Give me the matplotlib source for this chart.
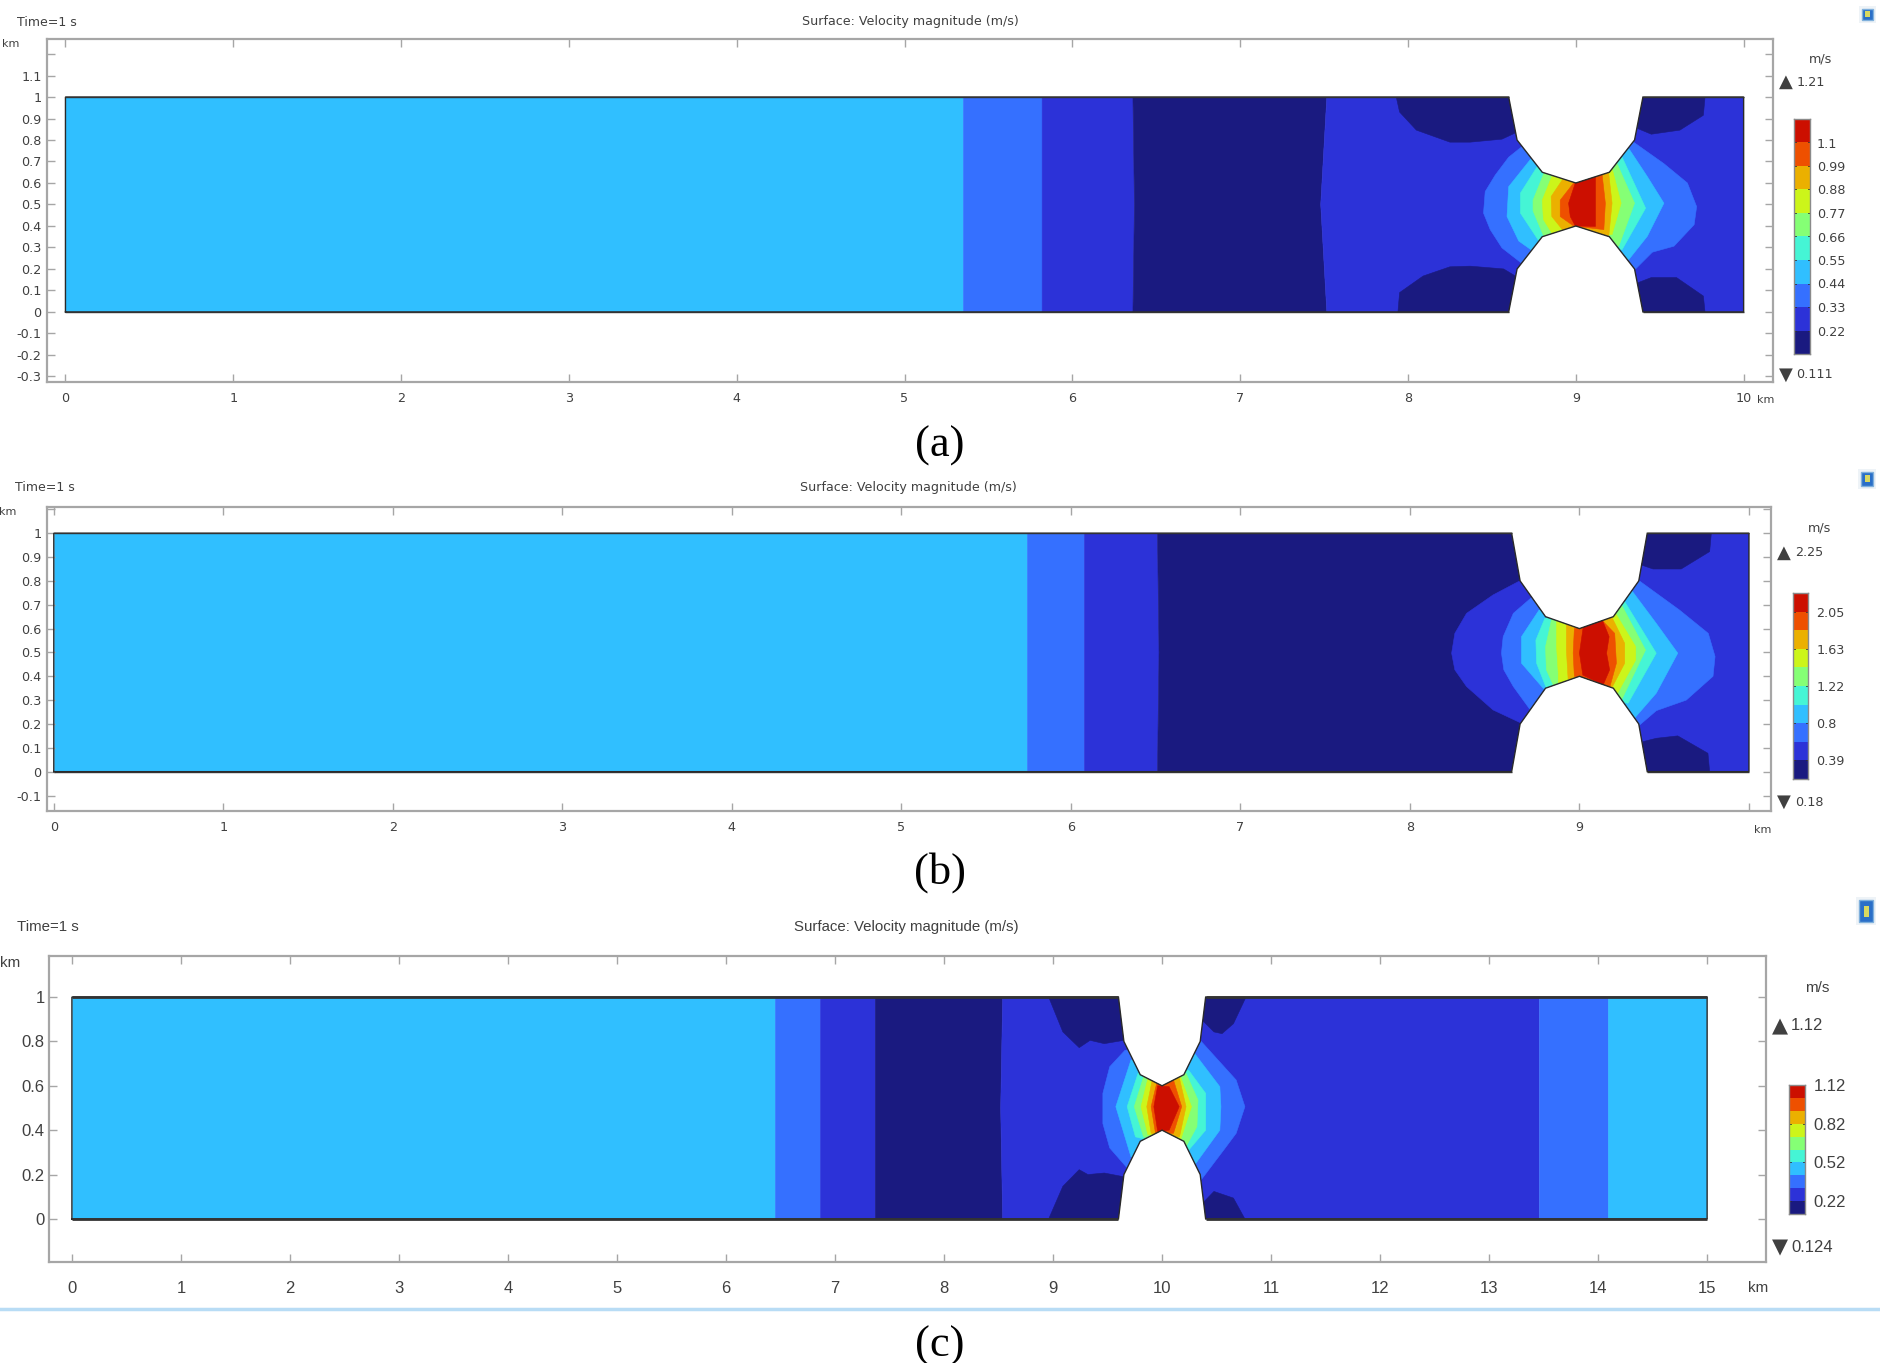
import matplotlib
matplotlib.use('Agg')
import matplotlib.pyplot as plt
from matplotlib.colors import ListedColormap
from matplotlib.patches import Polygon, Rectangle

W, H = 1880, 1363

# contour colours, lowest level first
level_colors = ['#1a1a80', '#2c32d8', '#3570ff', '#30bfff', '#45f5d5',
                '#85ff75', '#ccf51a', '#ebb000', '#ee5000', '#cc0f00']
AXIS = '#a6a6a6'
INK = '#404040'

# channel wall, 10 km cases (a, b)
wall_top_x = [8.6, 8.65, 8.8, 9.0, 9.2, 9.35, 9.4]
wall_top_y = [1.0, 0.8, 0.65, 0.6, 0.65, 0.8, 1.0]
wall_bot_y = [0.0, 0.2, 0.35, 0.4, 0.35, 0.2, 0.0]
# 15 km case (c)
c_wall_top_x = [9.6, 9.65, 9.8, 10.0, 10.2, 10.35, 10.4]

# (a) vertical bands along the channel
a_edges = [0, 5.35, 5.82, 6.36, 7.52, 10]
a_edges_mid = [0, 5.35, 5.82, 6.37, 7.48, 10]
a_levels = [3, 2, 1, 0, 1]
# (a) contours round the throat, level 3 upwards (index 2..9)
a_left = [
    [(8.68, .77), (8.6, .72), (8.52, .637), (8.46, .56), (8.45, .46), (8.49, .383), (8.56, .298), (8.68, .225)],
    [(8.73, .71), (8.6, .583), (8.59, .444), (8.66, .33), (8.75, .28)],
    [(8.77, .676), (8.67, .553), (8.67, .46), (8.78, .33)],
    [(8.81, .645), (8.745, .52), (8.745, .47), (8.81, .35)],
    [(8.857, .63), (8.8, .52), (8.807, .43), (8.857, .367)],
    [(8.92, .615), (8.853, .537), (8.857, .444), (8.92, .383)],
    [(8.987, .6), (8.907, .52), (8.907, .444), (8.987, .40)],
    [(8.997, .6), (8.957, .506), (8.967, .444), (8.997, .4)],
]
a_right = [
    [(9.326, .8), (9.525, .69), (9.665, .6), (9.72, .49), (9.705, .406), (9.585, .306), (9.456, .278), (9.356, .2)],
    [(9.316, .76), (9.426, .63), (9.525, .506), (9.426, .352), (9.316, .244)],
    [(9.276, .72), (9.416, .483), (9.276, .29)],
    [(9.246, .69), (9.35, .506), (9.256, .306)],
    [(9.216, .668), (9.27, .506), (9.216, .36)],
    [(9.196, .645), (9.216, .506), (9.196, .35)],
    [(9.157, .637), (9.176, .506), (9.167, .383)],
    [(9.117, .63), (9.117, .398)],
]
# (a) low velocity pockets next to the walls
a_pockets = [
    [(7.93, 1), (7.95, .93), (8.05, .846), (8.25, .79), (8.37, .79), (8.56, .804), (8.64, .833)],
    [(7.94, 0), (7.95, .09), (8.09, .167), (8.25, .21), (8.37, .213), (8.57, .2), (8.64, .167)],
    [(9.77, 1), (9.76, .915), (9.62, .846), (9.45, .827), (9.37, .853)],
    [(9.77, 0), (9.76, .074), (9.6, .16), (9.45, .16), (9.37, .136)],
]

# (b)
b_edges = [0, 5.74, 6.08, 6.51, 10]
b_edges_mid = [0, 5.74, 6.08, 6.52, 10]
b_levels = [3, 2, 1, 0]
b_left = [
    [(8.658, .804), (8.49, .741), (8.334, .664), (8.265, .58), (8.246, .497), (8.265, .427), (8.334, .357),
     (8.49, .259), (8.658, .203)],
    [(8.717, .73), (8.61, .664), (8.55, .566), (8.54, .497), (8.554, .427), (8.61, .357), (8.707, .262)],
    [(8.762, .678), (8.658, .566), (8.658, .455), (8.786, .35)],
    [(8.796, .643), (8.743, .552), (8.747, .455), (8.805, .35)],
    [(8.835, .636), (8.8, .524), (8.805, .427), (8.845, .364)],
    [(8.865, .63), (8.865, .524), (8.875, .413), (8.875, .37)],
    [(8.923, .615), (8.923, .51), (8.933, .39)],
    [(8.97, .6), (8.963, .497), (8.97, .4)],
    [(9.024, .615), (9.0, .497), (9.02, .405)],
]
b_right = [
    [(9.4, 1.05), (10.1, 1.05), (10.1, -.05), (9.4, -.05)],
    [(9.346, .804), (9.59, .678), (9.76, .58), (9.8, .483), (9.788, .4), (9.63, .3), (9.454, .256), (9.346, .19)],
    [(9.306, .762), (9.453, .622), (9.58, .497), (9.453, .329), (9.316, .217)],
    [(9.267, .713), (9.453, .497), (9.287, .287)],
    [(9.248, .7), (9.39, .51), (9.248, .3)],
    [(9.208, .67), (9.332, .524), (9.332, .468), (9.218, .32)],
    [(9.19, .65), (9.267, .538), (9.267, .455), (9.19, .35)],
    [(9.14, .63), (9.208, .58), (9.218, .455), (9.18, .357)],
    [(9.135, .636), (9.175, .566), (9.16, .497), (9.178, .427), (9.14, .364)],
]
b_pockets = [
    [(9.778, 1), (9.768, .923), (9.6, .85), (9.434, .85), (9.365, .867)],
    [(9.768, 0), (9.758, .077), (9.58, .15), (9.454, .14), (9.375, .126)],
]

# (c)
c_edges = [0, 6.45, 6.86, 7.37, 8.54, 13.46, 14.09, 15]
c_edges_mid = [0, 6.45, 6.86, 7.37, 8.52, 13.46, 14.09, 15]
c_levels = [3, 2, 1, 0, 1, 2, 3]
c_left = [
    [(9.66, .76), (9.52, .686), (9.457, .566), (9.457, .43), (9.52, .32), (9.68, .23)],
    [(9.715, .716), (9.576, .506), (9.715, .28)],
    [(9.78, .656), (9.68, .506), (9.756, .37)],
    [(9.83, .64), (9.745, .506), (9.83, .37)],
    [(9.87, .633), (9.807, .506), (9.87, .38)],
    [(9.91, .626), (9.86, .506), (9.9, .386)],
    [(9.95, .61), (9.9, .506), (9.94, .386)],
    [(9.96, .6), (9.925, .506), (9.96, .394)],
]
c_right = [
    [(10.35, .805), (10.68, .626), (10.76, .506), (10.68, .386), (10.58, .32), (10.36, .177)],
    [(10.3, .745), (10.53, .596), (10.54, .506), (10.53, .4), (10.3, .244)],
    [(10.244, .67), (10.4, .566), (10.4, .4), (10.244, .31)],
    [(10.22, .656), (10.33, .536), (10.32, .416), (10.22, .326)],
    [(10.17, .64), (10.27, .506), (10.17, .356)],
    [(10.16, .633), (10.22, .506), (10.16, .37)],
    [(10.105, .626), (10.18, .506), (10.105, .386)],
    [(10.065, .596), (10.157, .506), (10.065, .4)],
]
c_pockets = [
    [(8.96, 1), (9.09, .843), (9.24, .772), (9.34, .805), (9.47, .79), (9.65, .805)],
    [(8.96, 0), (9.09, .147), (9.24, .222), (9.32, .2), (9.47, .207), (9.65, .19)],
    [(10.77, 1), (10.655, .88), (10.55, .835), (10.476, .843), (10.36, .9)],
    [(10.76, 0), (10.655, .094), (10.476, .124), (10.37, .07)],
]

# colour bars
a_cb_edges = [.11, .22, .33, .44, .55, .66, .77, .88, .99, 1.1, 1.21]
a_cb_ticks = [.22, .33, .44, .55, .66, .77, .88, .99, 1.1]
a_cb_labels = ['0.22', '0.33', '0.44', '0.55', '0.66', '0.77', '0.88', '0.99', '1.1']
b_cb_edges = [.18, .387, .594, .801, 1.008, 1.215, 1.422, 1.629, 1.836, 2.043, 2.25]
b_cb_ticks = [.387, .801, 1.215, 1.629, 2.043]
b_cb_labels = ['0.39', '0.8', '1.22', '1.63', '2.05']
c_cb_edges = [.124, .224, .323, .423, .523, .622, .722, .822, .921, 1.021, 1.12]
c_cb_ticks = [.224, .523, .822, 1.12]
c_cb_labels = ['0.22', '0.52', '0.82', '1.12']

# axis ticks
a_yticks = [-.3, -.2, -.1, 0, .1, .2, .3, .4, .5, .6, .7, .8, .9, 1, 1.1, 1.2]
a_ylabels = ['-0.3', '-0.2', '-0.1', '0', '0.1', '0.2', '0.3', '0.4', '0.5', '0.6', '0.7', '0.8', '0.9', '1', '1.1', '']
a_xticks = list(range(11))
a_xlabels = ['0', '1', '2', '3', '4', '5', '6', '7', '8', '9', '10']
b_yticks = [-.1, 0, .1, .2, .3, .4, .5, .6, .7, .8, .9, 1, 1.1]
b_ylabels = ['-0.1', '0', '0.1', '0.2', '0.3', '0.4', '0.5', '0.6', '0.7', '0.8', '0.9', '1', '']
b_xticks = list(range(11))
b_xlabels = ['0', '1', '2', '3', '4', '5', '6', '7', '8', '9', '']
c_yticks = [0, .2, .4, .6, .8, 1]
c_ylabels = ['0', '0.2', '0.4', '0.6', '0.8', '1']
c_xticks = list(range(16))
c_xlabels = [str(i) for i in range(16)]

# toolbar icons at the right edge: centre x, centre y, width, height
icon_x = [1867, 1867, 1866]
icon_y = [14, 479, 911]
icon_w = [11, 12, 14]
icon_h = [11, 14, 22]

plt.rcParams['font.family'] = ['DejaVu Sans']
SANS = ['DejaVu Sans']
NARROW = ['Liberation Sans', 'DejaVu Sans']

fig = plt.figure(figsize=(W / 100, H / 100), dpi=100, facecolor='white')


def px_axes(left, top, right, bottom):
    return fig.add_axes([left / W, 1 - bottom / H, (right - left) / W, (bottom - top) / H])


def label(x, y, s, **kw):
    kw.setdefault('color', INK)
    kw.setdefault('va', 'center')
    return fig.text(x / W, 1 - y / H, s, **kw)


def draw_panel(box, xlim, ylim, top_x, edges, edges_mid, levels, left, right, pockets, first_level,
               xticks, xlabels, yticks, ylabels, fam, size, xpad, ypad, lw, hlw):
    ax = px_axes(*box)
    ax.set_xlim(*xlim)
    ax.set_ylim(*ylim)
    for s in ax.spines.values():
        s.set_color(AXIS)
        s.set_linewidth(1.6)
    ax.set_xticks(xticks)
    ax.set_xticklabels(xlabels, family=fam, fontsize=size, color=INK)
    ax.set_yticks(yticks)
    ax.set_yticklabels(ylabels, family=fam, fontsize=size, color=INK)
    ax.tick_params(direction='in', length=5.5, width=1, color=AXIS, top=True, right=True)
    ax.tick_params(axis='x', pad=xpad)
    ax.tick_params(axis='y', pad=ypad)

    end = edges[-1]
    outline = [(0, 0)] + list(zip(top_x, wall_bot_y)) + [(end, 0), (end, 1)]
    outline += list(zip(top_x[::-1], wall_top_y[::-1])) + [(0, 1)]
    domain = Polygon(outline, closed=True, transform=ax.transData, facecolor='none', edgecolor='none')
    ax.add_patch(domain)

    def fill(pts, level):
        xs = [p[0] for p in pts]
        ys = [p[1] for p in pts]
        for f in ax.fill(xs, ys, color=level_colors[level], lw=0.4):
            f.set_clip_path(domain)

    for i, lev in enumerate(levels):
        fill([(edges[i], 1.05), (edges_mid[i], .5), (edges[i], -.05),
              (edges[i + 1], -.05), (edges_mid[i + 1], .5), (edges[i + 1], 1.05)], lev)
    for i in range(len(left)):
        fill(left[i] + right[i][::-1], first_level + i)
    for p in pockets:
        out = 1.1 if p[0][1] > .5 else -.1
        fill(p + [(p[-1][0], out), (p[0][0], out)], 0)

    xs = [p[0] for p in outline]
    ys = [p[1] for p in outline]
    ax.plot(xs + xs[:1], ys + ys[:1], color='#2a2a2a', lw=lw, solid_joinstyle='miter')
    # top and bottom walls come out heavier than the throat
    for yy in [0, 1]:
        ax.plot([0, top_x[0]], [yy, yy], color='#333333', lw=hlw, solid_capstyle='butt')
        ax.plot([top_x[-1], end], [yy, yy], color='#333333', lw=hlw, solid_capstyle='butt')
    return ax


def draw_colorbar(box, edges, ticks, labels, fam, size, pad):
    ax = px_axes(*box)
    ax.pcolormesh([0, 1], edges, [[v] for v in range(10)], cmap=ListedColormap(level_colors), vmin=-.5, vmax=9.5)
    ax.set_xticks([])
    ax.set_ylim(edges[0], edges[-1])
    ax.yaxis.tick_right()
    ax.set_yticks(ticks)
    ax.set_yticklabels(labels, family=fam, fontsize=size, color=INK)
    ax.tick_params(length=0, pad=pad)
    for s in ax.spines.values():
        s.set_color('#8a8a8a')
        s.set_linewidth(1)
    for t in ticks:
        ax.plot([0, .12], [t, t], color='#303030', lw=.6)
        ax.plot([.88, 1], [t, t], color='#303030', lw=.6)
    ax.set_xlim(0, 1)
    return ax


# panel (a)
draw_panel((47, 39, 1773, 382), (-.11, 10.175), (-.326, 1.27), wall_top_x, a_edges, a_edges_mid, a_levels,
           a_left, a_right, a_pockets, 2, a_xticks, a_xlabels, a_yticks, a_ylabels, SANS, 9.2, 7, 4, 1.0, 1.0)
draw_colorbar((1794, 119, 1810, 354), a_cb_edges, a_cb_ticks, a_cb_labels, SANS, 9.2, 5)
label(17, 22, 'Time=1 s', fontsize=9)
label(910, 22, 'Surface: Velocity magnitude (m/s)', fontsize=9.1, ha='center')
label(2, 44, 'km', fontsize=8)
label(1757, 400, 'km', fontsize=8)
label(1821, 59, 'm/s', fontsize=9.2, ha='center')
label(1786, 82, '▲', fontsize=13, ha='center')
label(1797, 82, '1.21', fontsize=9.2)
label(1786, 375, '▼', fontsize=13, ha='center')
label(1796, 375, '0.111', fontsize=9.2)
label(940, 446, '(a)', fontsize=32, ha='center', color='black', family=['Liberation Serif'])

# panel (b)
draw_panel((47, 507, 1771, 811), (-.04, 10.13), (-.165, 1.11), wall_top_x, b_edges, b_edges_mid, b_levels,
           b_left, b_right, b_pockets, 1, b_xticks, b_xlabels, b_yticks, b_ylabels, SANS, 9.2, 7, 4, 1.0, 1.0)
draw_colorbar((1793, 593, 1808, 779), b_cb_edges, b_cb_ticks, b_cb_labels, SANS, 9.2, 6)
label(15, 488, 'Time=1 s', fontsize=9)
label(908, 488, 'Surface: Velocity magnitude (m/s)', fontsize=9.1, ha='center')
label(8, 512, 'km', fontsize=8, ha='center')
label(1763, 830, 'km', fontsize=8, ha='center')
label(1820, 528, 'm/s', fontsize=9.2, ha='center')
label(1784, 553, '▲', fontsize=13, ha='center')
label(1795, 553, '2.25', fontsize=9.2)
label(1784, 802, '▼', fontsize=13, ha='center')
label(1795, 802, '0.18', fontsize=9.2)
label(940, 873, '(b)', fontsize=32, ha='center', color='black', family=['Liberation Serif'])

# panel (c), squeezed sideways in the reference so the type is kept small enough to fit
draw_panel((49, 956, 1766, 1262), (-.21, 15.54), (-.194, 1.185), c_wall_top_x, c_edges, c_edges_mid, c_levels,
           c_left, c_right, c_pockets, 2, c_xticks, c_xlabels, c_yticks, c_ylabels, NARROW, 12, 14, 3, 1.0, 2.0)
draw_colorbar((1789, 1085, 1805, 1214), c_cb_edges, c_cb_ticks, c_cb_labels, NARROW, 12, 6)
label(48, 927, 'Time=1 s', fontsize=10.8, ha='center', family=NARROW)
label(906, 927, 'Surface: Velocity magnitude (m/s)', fontsize=10.8, ha='center', family=NARROW)
label(10, 963, 'km', fontsize=11, ha='center', family=NARROW)
label(1758, 1288, 'km', fontsize=11, ha='center', family=NARROW)
label(1817, 988, 'm/s', fontsize=11, ha='center', family=NARROW)
label(1780, 1026, '▲', fontsize=15, ha='center')
label(1791, 1026, '1.12', fontsize=12, family=NARROW)
label(1780, 1247, '▼', fontsize=15, ha='center')
label(1791, 1247, '0.124', fontsize=12, family=NARROW)
label(940, 1346, '(c)', fontsize=32, ha='center', color='black', family=['Liberation Serif'])

# screenshot leftovers: line above (c) and the small toolbar icons
fig.add_artist(plt.Line2D([0, 1], [1 - 1309 / H, 1 - 1309 / H], color='#b8dcf5', lw=2.5))
for ix, iy, iw, ih in zip(icon_x, icon_y, icon_w, icon_h):
    fig.add_artist(Rectangle(((ix - iw / 2 - 3) / W, 1 - (iy + ih / 2 + 3) / H), (iw + 6) / W, (ih + 6) / H,
                             transform=fig.transFigure, facecolor='#eef3f7', edgecolor='none'))
    fig.add_artist(Rectangle(((ix - iw / 2) / W, 1 - (iy + ih / 2) / H), iw / W, ih / H,
                             transform=fig.transFigure, facecolor='#2a6fc8', edgecolor='#7fb0dc', lw=1))
    fig.add_artist(Rectangle(((ix - iw / 6) / W, 1 - (iy + ih / 4) / H), iw / 2.5 / W, ih / 2 / H,
                             transform=fig.transFigure, facecolor='#d8d860', edgecolor='none'))

fig.savefig('out.png', dpi=100)
